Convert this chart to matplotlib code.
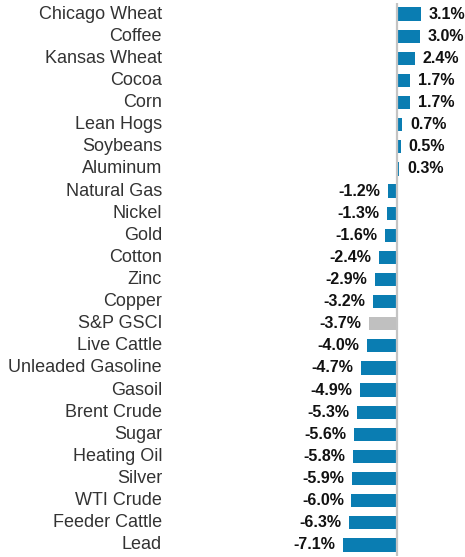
import matplotlib
matplotlib.use("Agg")
import matplotlib.pyplot as plt
import matplotlib.transforms as mtransforms

categories = ["Chicago Wheat", "Coffee", "Kansas Wheat", "Cocoa", "Corn", "Lean Hogs",
              "Soybeans", "Aluminum", "Natural Gas", "Nickel", "Gold", "Cotton", "Zinc",
              "Copper", "S&P GSCI", "Live Cattle", "Unleaded Gasoline", "Gasoil",
              "Brent Crude", "Sugar", "Heating Oil", "Silver", "WTI Crude",
              "Feeder Cattle", "Lead"]
values = [3.1, 3.0, 2.4, 1.7, 1.7, 0.7, 0.5, 0.3, -1.2, -1.3, -1.6, -2.4, -2.9, -3.2,
          -3.7, -4.0, -4.7, -4.9, -5.3, -5.6, -5.8, -5.9, -6.0, -6.3, -7.1]
highlight = "S&P GSCI"

plt.rcParams['font.family'] = ['Liberation Sans', 'DejaVu Sans']

W, H = 465, 557
fig = plt.figure(figsize=(W / 100, H / 100), dpi=100)
zero_px = 397
scale = 7.6  # px per %
xmin, xmax = -8, 4
left_px = zero_px + xmin * scale
right_px = zero_px + xmax * scale
top_px, bot_px = 3, 556
ax = fig.add_axes([left_px / W, 1 - bot_px / H, (right_px - left_px) / W, (bot_px - top_px) / H])
ax.set_xlim(xmin, xmax)
n = len(categories)
ax.set_ylim(n - 0.5, -0.5)
ax.axis('off')

blue = "#0a7db2"
grey = "#c0c0c0"
colors = [grey if c == highlight else blue for c in categories]
ys = list(range(n))
ax.barh(ys, values, height=0.6, color=colors, zorder=2)
ax.axvline(0, color="#c4c4c4", lw=1.6, zorder=3)

trans = mtransforms.blended_transform_factory(fig.transFigure, ax.transData)
for y, c in zip(ys, categories):
    ax.text(162 / W, y, c, transform=trans, ha='right', va='center', fontsize=13,
            color='#333333')

for y, v in zip(ys, values):
    off = 5.5 if v >= 0 else -5.5
    ax.annotate(f"{v:.1f}%", xy=(v, y), xytext=(off, 0), textcoords='offset points',
                ha='left' if v >= 0 else 'right', va='center', fontsize=11.5,
                fontweight='bold', color='#111111', annotation_clip=False)

fig.savefig("out.png", dpi=100)
